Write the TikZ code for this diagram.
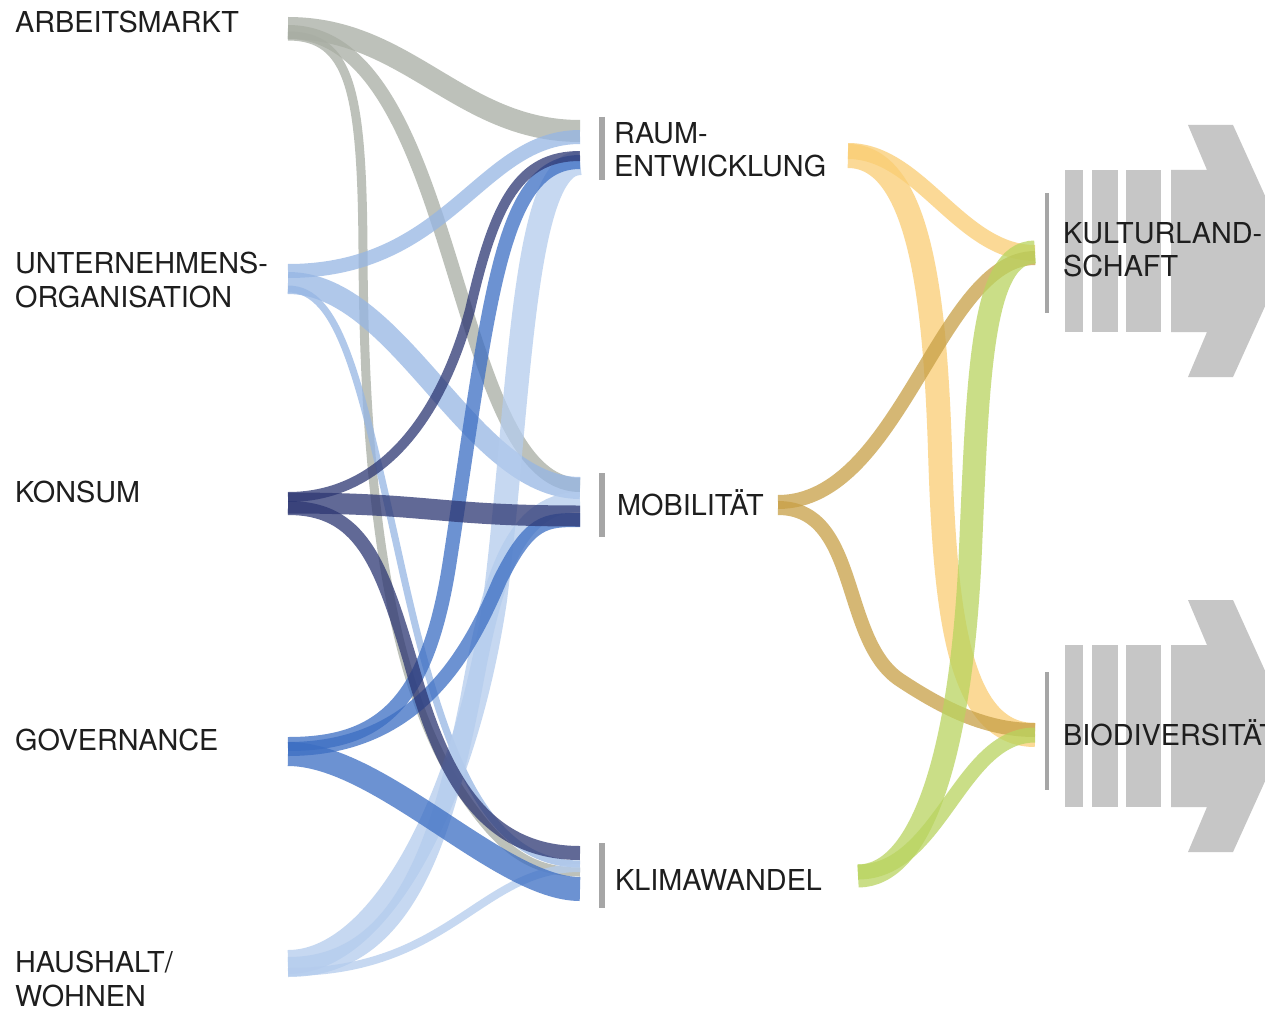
\documentclass[tikz,border=0pt]{standalone}
\usepackage{fontspec}
\setmainfont{TeX Gyre Heros}
\definecolor{grau}{RGB}{168,173,163}
\definecolor{hellblau}{RGB}{150,182,228}
\definecolor{dunkelblau}{RGB}{45,55,115}
\definecolor{mittelblau}{RGB}{60,110,195}
\definecolor{blassblau}{RGB}{180,204,237}
\definecolor{gelb}{RGB}{250,205,115}
\definecolor{ocker}{RGB}{200,160,70}
\definecolor{gruen}{RGB}{185,212,95}
\definecolor{pfeil}{RGB}{198,198,198}
\definecolor{balken}{RGB}{166,166,166}
\definecolor{schrift}{RGB}{30,30,30}

\begin{document}
\begin{tikzpicture}[x=1pt,y=-1pt,
  flow/.style={line width=#1pt, opacity=0.75},
  lbl/.style={font=\fontsize{28.8}{33.5}\selectfont, text=schrift, inner sep=0pt},
  balk/.style={line width=6pt, balken}]

\fill[white] (0,0) rectangle (1265,1011);
\useasboundingbox (0,0) rectangle (1265,1011);

\foreach \dy in {0,475} {
  \fill[pfeil] (1065,170+\dy) rectangle (1083,332+\dy);
  \fill[pfeil] (1092,170+\dy) rectangle (1118,332+\dy);
  \fill[pfeil] (1126,170+\dy) rectangle (1161,332+\dy);
  \fill[pfeil] (1171,170+\dy) -- (1207,170+\dy) -- (1188,125+\dy) -- (1233,125+\dy)
    -- (1290,251+\dy) -- (1233,377+\dy) -- (1188,377+\dy) -- (1207,332+\dy)
    -- (1171,332+\dy) -- cycle;
}

\draw[balk] (602,117) -- (602,180);
\draw[balk] (602,473) -- (602,537);
\draw[balk] (602,843) -- (602,908);
\draw[balk, line width=4pt] (1047,193) -- (1047,313);
\draw[balk, line width=4pt] (1047,672) -- (1047,790);

\node[lbl, anchor=base west] (arb) at (15,33) {ARBEITSMARKT};
\node[lbl, anchor=north west, align=left] (unt) at (15,252) {UNTERNEHMENS-\\ORGANISATION};
\node[lbl, anchor=base west] (kon) at (15,502) {KONSUM};
\node[lbl, anchor=base west] (gov) at (15,750) {GOVERNANCE};
\node[lbl, anchor=north west, align=left] (hau) at (15,951) {HAUSHALT/\\WOHNEN};
\node[lbl, anchor=north west, align=left] (raum) at (614,122) {RAUM-\\ENTWICKLUNG};
\node[lbl, anchor=base west] (mob) at (617,515) {MOBILITÄT};
\node[lbl, anchor=base west] (klima) at (615,890) {KLIMAWANDEL};
\node[lbl, anchor=north west, align=left] (kult) at (1063,222) {KULTURLAND-\\SCHAFT};
\node[lbl, anchor=base west] (bio) at (1063,745) {BIODIVERSITÄT};

\coordinate (a1) at (288,28);
\coordinate (a2) at (288,32);
\coordinate (a3) at (288,36);
\coordinate (u1) at (288,271);
\coordinate (u2) at (288,283);
\coordinate (u3) at (288,289);
\coordinate (ko1) at (288,497);
\coordinate (ko2) at (288,503);
\coordinate (ko3) at (288,508);
\coordinate (g1) at (288,744);
\coordinate (g2) at (288,749);
\coordinate (g3) at (288,754);
\coordinate (h1) at (288,962);
\coordinate (h2) at (288,967);
\coordinate (h3) at (288,972);

\coordinate (r1) at (580,131);
\coordinate (r2) at (580,137);
\coordinate (r3) at (580,156);
\coordinate (r4) at (580,162);
\coordinate (r5) at (580,163);
\coordinate (m1) at (580,485);
\coordinate (m2) at (580,488);
\coordinate (m3) at (580,516);
\coordinate (m4) at (580,520);
\coordinate (m5) at (580,502);
\coordinate (k1) at (580,872);
\coordinate (k2) at (580,864);
\coordinate (k3) at (580,853);
\coordinate (k4) at (580,889);
\coordinate (k5) at (580,868);

\coordinate (r6) at (848,151);
\coordinate (r7) at (848,156);
\coordinate (m6) at (778,502);
\coordinate (m7) at (778,508);
\coordinate (k6) at (858,876);
\coordinate (k7) at (858,872);
\coordinate (ku1) at (1035,253);
\coordinate (ku2) at (1035,258);
\coordinate (ku3) at (1035,252);
\coordinate (b1) at (1035,735);
\coordinate (b2) at (1035,730);
\coordinate (b3) at (1035,735);

\draw[flow=22,grau] (a1) .. controls +(120,0) and +(-120,0) .. (r1);
\draw[flow=14,grau] (a2) .. controls +(172,0) and +(-130,0) .. (m1);
\draw[flow=9,grau] (a3) .. controls (350,36) and (362,90) .. (363,250)
  .. controls (364,520) and (395,690) .. (460,790) .. controls (500,850) and (530,872) .. (k1);

\draw[flow=14,hellblau] (u1) .. controls +(162,0) and +(-100,0) .. (r2);
\draw[flow=22,hellblau] (u2) .. controls +(112,0) and +(-110,0) .. (m2);
\draw[flow=7,hellblau] (u3) .. controls (340,289) and (360,380) .. (400,560)
  .. controls (440,740) and (480,864) .. (k2);

\draw[flow=24,blassblau] (h1) .. controls (380,962) and (465,800) .. (495,600)
  .. controls (520,400) and (522,163) .. (r5);
\draw[flow=20,blassblau] (h2) .. controls (400,967) and (440,850) .. (470,700)
  .. controls (490,590) and (510,502) .. (m5);
\draw[flow=8,blassblau] (h3) .. controls +(162,0) and +(-100,0) .. (k5);

\draw[flow=14,mittelblau] (g1) .. controls (380,744) and (428,705) .. (450,560)
  .. controls (490,300) and (500,162) .. (r4);
\draw[flow=14,mittelblau] (g2) .. controls (420,749) and (470,650) .. (500,580)
  .. controls (530,520) and (545,520) .. (m4);
\draw[flow=24,mittelblau] (g3) .. controls +(92,0) and +(-80,0) .. (k4);

\draw[flow=10,dunkelblau] (ko1) .. controls (380,497) and (440,420) .. (470,310)
  .. controls (495,200) and (520,156) .. (r3);
\draw[flow=21,dunkelblau] (ko2) .. controls +(140,0) and +(-140,0) .. (m3);
\draw[flow=14,dunkelblau] (ko3) .. controls (360,508) and (380,560) .. (410,660)
  .. controls (440,770) and (480,853) .. (k3);

\draw[flow=16,gelb] (r6) .. controls +(72,0) and +(-75,0) .. (ku1);
\draw[flow=24,gelb] (r7) .. controls (920,156) and (935,300) .. (940,450)
  .. controls (945,620) and (960,735) .. (b1);
\draw[flow=14,ocker] (m6) .. controls +(122,0) and +(-95,0) .. (ku2);
\draw[flow=14,ocker] (m7) .. controls (860,508) and (840,640) .. (900,680)
  .. controls (950,713) and (990,730) .. (b2);
\draw[flow=23,gruen] (k6) .. controls (920,876) and (960,760) .. (970,560)
  .. controls (978,380) and (980,252) .. (ku3);
\draw[flow=15,gruen] (k7) .. controls +(82,0) and +(-75,0) .. (b3);

\end{tikzpicture}
\end{document}
